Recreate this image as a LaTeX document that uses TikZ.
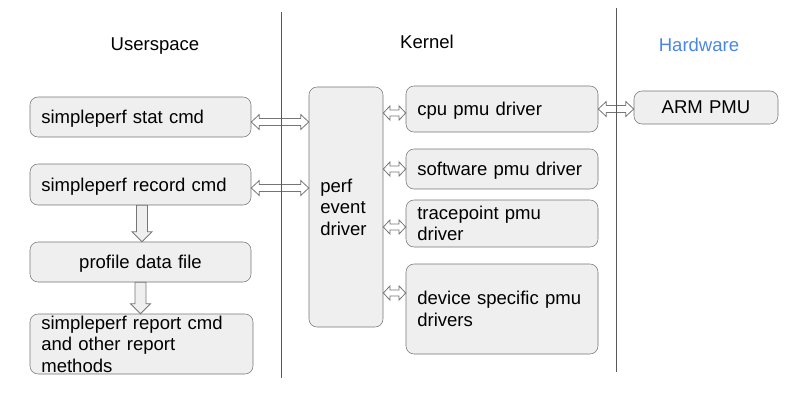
\documentclass[tikz,border=0pt]{standalone}
\usepackage{fontspec}
\setmainfont{Liberation Sans}
\usetikzlibrary{arrows.meta,positioning,calc}
\definecolor{boxfill}{HTML}{EFEFEF}
\definecolor{boxline}{HTML}{767676}
\definecolor{hwblue}{HTML}{4A86E8}
\tikzset{
    >=Stealth,
    every node/.style={font=\fontsize{13.9}{16.1}\selectfont, text depth=0pt}
}
\begin{document}
\begin{tikzpicture}[x=0.75pt, y=-0.75pt,
  box/.style={draw=boxline, fill=boxfill, rounded corners=6pt, align=left, inner xsep=8.5pt, inner ysep=0pt},
  twolines/.style={text depth=16.1pt},
  threelines/.style={text depth=32.2pt},
  sepline/.style={draw=black!65, line width=0.6pt},
  % hollow two-headed arrow: half shaft, half head, head length
  fatboth/.style n args={3}{draw=boxline, fill=white, line width=0.6pt, to path={
    let \p1=(\tikztostart), \p2=(\tikztotarget) in
    (\x1,\y1) -- (\x1+#3,\y1+#2) -- (\x1+#3,\y1+#1) -- (\x2-#3,\y1+#1) -- (\x2-#3,\y1+#2)
    -- (\x2,\y1) -- (\x2-#3,\y1-#2) -- (\x2-#3,\y1-#1) -- (\x1+#3,\y1-#1) -- (\x1+#3,\y1-#2) -- cycle}},
  % hollow downward arrow
  fatdown/.style n args={3}{draw=boxline, fill=boxfill, line width=0.6pt, to path={
    let \p1=(\tikztostart), \p2=(\tikztotarget) in
    (\x1-#1,\y1) -- (\x1+#1,\y1) -- (\x1+#1,\y2+#3) -- (\x1+#2,\y2+#3) -- (\x1,\y2)
    -- (\x1-#2,\y2+#3) -- (\x1-#1,\y2+#3) -- cycle}},
  bigarrow/.style={fatboth={2.6pt}{5.6pt}{6pt}},
  smallarrow/.style={fatboth={2.25pt}{5.25pt}{5pt}},
  downarrow/.style={fatdown={4.1pt}{7.5pt}{7.5pt}}
]
  \useasboundingbox (0,0) rectangle (800,400);

  % Column titles
  \node (user) at (155,44.3) {Userspace};
  \node (kernel) at (427,42) {Kernel};
  \node[text=hwblue] (hw) at (699,44.7) {Hardware};

  % Userspace
  \node[box, text width=148.75pt, minimum height=30pt] (stat) at (140.5,117) {simpleperf stat cmd};
  \node[box, text width=148.75pt, minimum height=30.75pt] (record) at (140.5,184.5) {simpleperf record cmd};
  \node[box, text width=148.75pt, minimum height=30pt, align=center] (profile) at (140.5,262) {profile data file};
  \node[box, threelines, text width=150.25pt, minimum height=45pt] (report) at (141.5,344) {simpleperf report cmd\\and other report\\methods};

  % Kernel
  \node[box, threelines, text width=38.5pt, minimum height=180pt] (perf) at (346,207) {perf\\event\\driver};
  \node[box, text width=127pt, minimum height=34.5pt] (cpu) at (502,109) {cpu pmu driver};
  \node[box, text width=127pt, minimum height=30pt] (software) at (502,169) {software pmu driver};
  \node[box, twolines, text width=127pt, minimum height=35.25pt] (tracepoint) at (502,223.5) {tracepoint pmu\\driver};
  \node[box, twolines, text width=127pt, minimum height=67.5pt] (device) at (502,309) {device specific pmu\\drivers};

  % Hardware
  \node[box, text width=91pt, minimum height=24.75pt, align=center] (arm) at (706,107.5) {ARM PMU};

  % Connectors
  \draw[bigarrow] ($(stat.east)+(0,5)$) to ($(stat.east -| perf.west)+(0,5)$);
  \draw[bigarrow] ($(record.east)+(0,3.5)$) to ($(record.east -| perf.west)+(0,3.5)$);
  \draw[bigarrow] (cpu.east) to (cpu.east -| arm.west);
  \draw[smallarrow] ($(perf.east |- cpu.west)+(0,4)$) to ($(cpu.west)+(0,4)$);
  \draw[smallarrow] (perf.east |- software.west) to (software.west);
  \draw[smallarrow] ($(perf.east |- tracepoint.west)+(0,3.5)$) to ($(tracepoint.west)+(0,3.5)$);
  \draw[smallarrow] ($(perf.east |- device.west)+(0,-16)$) to ($(device.west)+(0,-16)$);
  \draw[downarrow] ($(record.south)+(1.5,0)$) to ($(profile.north)+(1.5,0)$);
  \draw[downarrow] (profile.south) to (report.north);

  % Column separators
  \draw[sepline] (281,12) -- (281,378);
  \draw[sepline] (616,8) -- (616,372);
\end{tikzpicture}
\end{document}
